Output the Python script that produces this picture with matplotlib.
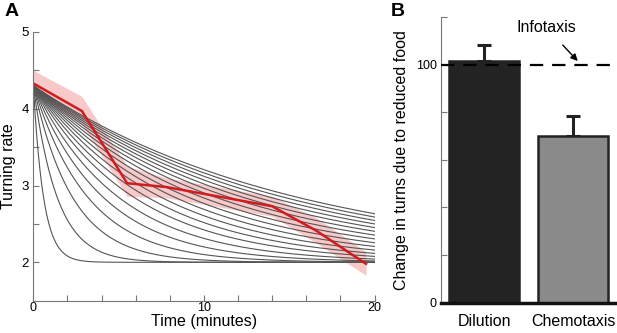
import numpy as np
import matplotlib
matplotlib.use("Agg")
import matplotlib.pyplot as plt

plt.rcParams["font.family"] = ["Liberation Sans", "DejaVu Sans"]

# Panel A: model curves (time constants), red data line with band
model_start = 4.3
model_floor = 2.0
model_taus = [0.6, 1.4, 2.3, 3.2, 4.1, 5.0, 5.9, 6.7, 7.5, 8.3, 9.1,
              9.9, 10.7, 11.5, 12.3, 13.1, 13.9, 14.7, 15.5]
model_t = np.linspace(0, 20, 400)

data_t = [0, 2.85, 5.5, 7.8, 14.0, 16.6, 19.5]
data_rate = [4.33, 3.97, 3.03, 2.98, 2.73, 2.41, 1.98]
data_upper = [4.50, 4.16, 3.25, 3.10, 2.86, 2.58, 2.14]
data_lower = [4.18, 3.80, 2.86, 2.84, 2.60, 2.25, 1.83]

# Panel B: bars
conditions = ["Dilution", "Chemotaxis"]
change = [101.4, 70.0]
change_err = [7.0, 8.5]
infotaxis_level = 100

fig = plt.figure(figsize=(6.17, 3.33), dpi=100)

axA = fig.add_axes([0.054, 0.097, 0.553, 0.807])
for tau in model_taus:
    axA.plot(model_t, model_floor + (model_start - model_floor) * np.exp(-model_t / tau),
             color="#555555", lw=0.8)
axA.fill_between(data_t, data_lower, data_upper, color="#f5b8b8", alpha=0.75, lw=0)
axA.plot(data_t, data_rate, color="#d01c20", lw=1.8)
axA.set_xlim(0, 20)
axA.set_ylim(1.5, 5)
axA.set_xticks(np.arange(0, 21, 2))
axA.set_xticklabels(["0", "", "", "", "", "10", "", "", "", "", "20"])
axA.set_yticks(np.arange(1.5, 5.01, 0.5))
axA.set_yticklabels(["", "2", "", "3", "", "4", "", "5"])
axA.tick_params(direction="in", length=4, width=0.8, color="#777777", labelsize=9.5, pad=3)
axA.tick_params(axis="x", labelsize=9, pad=1)
for s in ["top", "right"]:
    axA.spines[s].set_visible(False)
for s in ["left", "bottom"]:
    axA.spines[s].set_color("#777777")
    axA.spines[s].set_linewidth(0.8)
axA.set_xlabel("Time (minutes)", fontsize=11.5, labelpad=0)
axA.set_ylabel("Turning rate", fontsize=11.5, labelpad=4)

axB = fig.add_axes([0.715, 0.091, 0.285, 0.858])
x = np.arange(len(conditions))
axB.bar(x, change, width=0.78, color=["#232323", "#8a8a8a"],
        edgecolor="#232323", linewidth=1.8, zorder=2)
axB.errorbar(x, change, yerr=[[0, 0], change_err], fmt="none", ecolor="#232323",
             elinewidth=2.2, capsize=5, capthick=2.2, zorder=1)
axB.axhline(infotaxis_level, color="black", lw=1.6, dashes=(6, 4), zorder=3)
axB.annotate("Infotaxis", xy=(1.05, 101.5), xytext=(0.70, 115.5),
             ha="center", va="center", fontsize=11.5,
             arrowprops=dict(arrowstyle="-|>", color="black", lw=1.0,
                             shrinkA=7, shrinkB=0, mutation_scale=10))
axB.set_xlim(-0.48, 1.49)
axB.set_ylim(0, 120)
axB.set_yticks(np.arange(0, 121, 20))
axB.set_yticklabels(["0", "", "", "", "", "100", ""])
axB.set_xticks(x)
axB.set_xticklabels(conditions, fontsize=11.5)
axB.tick_params(axis="y", direction="in", length=4, width=0.8, color="#777777",
                labelsize=9, pad=3)
axB.tick_params(axis="x", length=0, pad=8)
for s in ["top", "right"]:
    axB.spines[s].set_visible(False)
axB.spines["left"].set_color("#777777")
axB.spines["left"].set_linewidth(0.8)
axB.spines["bottom"].set_color("#111111")
axB.spines["bottom"].set_linewidth(2.5)
axB.set_ylabel("Change in turns due to reduced food", fontsize=11.5, labelpad=5)

fig.text(0.008, 0.965, "A", fontsize=14, fontweight="bold", va="center")
fig.text(0.633, 0.965, "B", fontsize=14, fontweight="bold", va="center")

fig.savefig("out.png", dpi=100)
